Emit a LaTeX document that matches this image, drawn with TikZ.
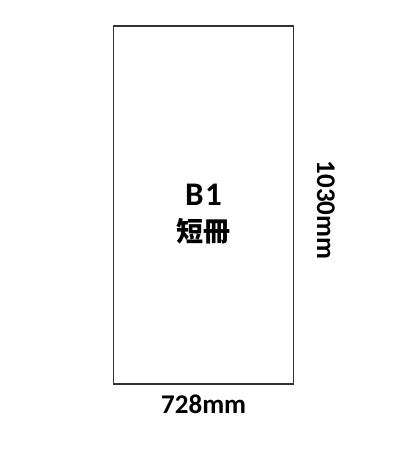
\documentclass[tikz,border=0pt]{standalone}
\usepackage{fontspec}
\setmainfont{Carlito}
\newfontfamily\cjk{Noto Sans CJK JP}
\begin{document}
\begin{tikzpicture}[x=1pt,y=-1pt,
  lbl/.style={font=\fontsize{27}{30}\selectfont\bfseries, inner sep=0pt},
  biglbl/.style={font=\fontsize{33}{35}\selectfont\bfseries, inner sep=0pt},
  cjklbl/.style={font=\fontsize{27}{29}\selectfont\cjk\bfseries, inner sep=0pt},
  sheet/.style={draw=black!80, line width=1.1pt, fill=white}]
\useasboundingbox (0,0) rectangle (400,461);
\node[sheet, minimum width=180pt, minimum height=358pt, inner sep=0pt] (rect) at (203.7,205) {};
\node[biglbl, anchor=base] (b1) at (203.5,205) {B\kern1.5pt1};
\node[cjklbl] (tan) at (203.5,231) {短冊};
\node[lbl] (w) at (203.7,404) {728mm};
\node[lbl, rotate=-90] (h) at (326,210) {1030mm};
\end{tikzpicture}
\end{document}
